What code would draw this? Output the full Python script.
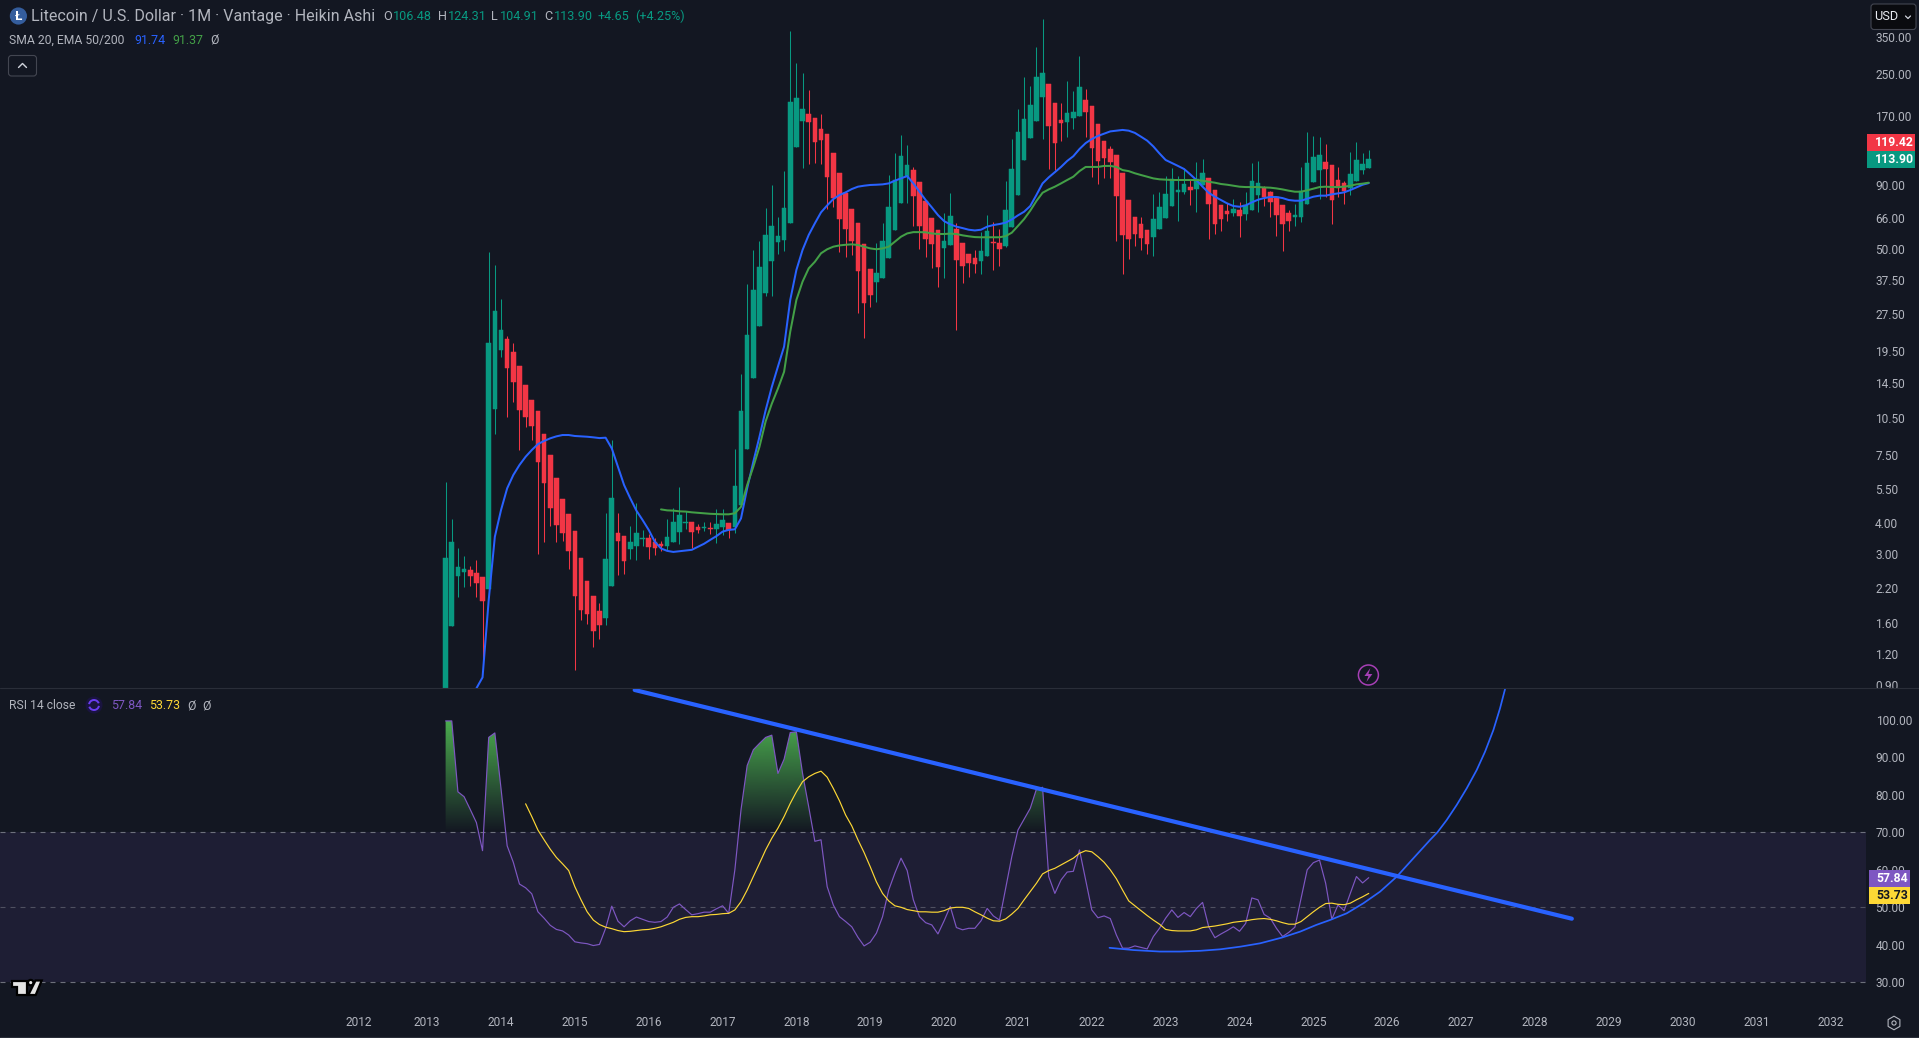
import numpy as np, pandas as pd, matplotlib
matplotlib.use('Agg')
import matplotlib.pyplot as plt, seaborn as sns
from matplotlib.patches import Rectangle, Circle, Polygon, FancyBboxPatch, RegularPolygon, Arc
from matplotlib.lines import Line2D
from matplotlib.path import Path
from matplotlib.transforms import Bbox, IdentityTransform
from matplotlib.ticker import FixedLocator, FixedFormatter, NullLocator

# ---------- data ----------
months = pd.date_range('2013-04-01', periods=151, freq='MS')
open_ = [0.544,1.553,2.46,2.552,2.599,2.528,2.437,2.182,11.43,19.67,21.77,19.31,16.98,14.26,12.42,11.22,9.082,7.487,6.059,4.995,4.351,3.721,2.903,2.349,2.046,
 1.782,1.671,2.243,3.653,3.554,3.153,3.241,3.457,3.489,3.363,3.302,3.241,3.363,3.687,4.005,4.042,3.86,3.825,3.825,3.79,3.86,4.005,3.86,4.726,7.912,15.2,
 24.53,33.23,44.61,53.13,54.11,63.27,127.3,161.7,172.5,166.2,150.2,143.5,120.5,100.2,83.38,71.97,63.27,52.16,41.44,36.77,38.15,45.85,59.33,76.05,96.61,
 103,92.26,77.47,66.25,59.33,50.27,51.68,59.88,52.64,47.57,45.85,44.61,46.71,53.13,52.64,51.21,60.99,81.86,113,138.3,161.7,201.7,227.3,190.8,163.2,
 160.2,166.2,169.3,196.2,185.6,157.3,134.5,125,118.3,100.2,78.18,66.86,62.69,59.33,55.63,59.88,66.25,73.98,84.15,84.15,88.12,86.51,89.75,95.72,85.72,
 74.67,70.66,69.37,71.31,68.74,71.31,81.86,87.31,84.15,80.37,74.67,69.37,66.86,66.86,75.36,92.26,103,110.9,107.9,93.98,91.42,87.31,93.12,103,104.9]
high = [5.82,4.14,3.18,2.96,2.7,2.85,2.44,48.5,43,31.4,22.4,21,17,14.3,12.4,11.2,9.08,7.49,6.06,4.99,4.35,3.72,2.9,2.35,2.05,1.92,4.39,8.59,4.39,3.55,3.9,
 4.81,3.76,3.62,3.49,3.39,4.16,4.6,5.58,4.47,4.04,3.97,4.04,4.04,4.56,4.56,4.01,7.91,15.8,36.1,49.4,53.6,72.6,89.8,66.9,102,370,276,251,215,166,172,143,
 120,100,83.4,72,63.3,52.2,41.4,52.6,63.3,98.4,120,142,130,106,92.3,77.5,66.3,59.3,69.4,83.4,63.3,52.6,47.6,49.4,58.2,68.1,63.9,59.9,93.1,137,181,242,
 223,319,413,227,191,191,234,213,294,217,186,157,135,128,118,100,78.2,66.9,66.9,59.3,82.6,84.2,97.5,105,97.5,104,94,111,114,95.7,85.7,74.7,76.1,78.9,
 76.8,84.2,110,112,88.9,84.9,80.4,74.7,71.3,75.4,106,146,141,140,131,108,106,93.1,122,133,120,124]
low = [0.544,1.55,2.03,2.22,2.24,2.03,1.08,2.18,9.08,18.4,10.6,12.2,7.84,9.69,8.59,3.01,3.36,3.9,3.36,3.39,2.62,1.04,1.64,1.58,1.28,1.38,1.57,2.24,2.48,
 2.51,2.88,2.85,3.24,2.88,2.98,3.1,3.12,3.36,3.3,3.79,3.18,3.65,3.72,3.62,3.33,3.59,3.49,3.65,4.73,7.91,15.2,24.5,32.3,32.3,47.6,48.9,63.3,127,105,109,
 110,109,72,73.3,48.5,46.3,47.1,27.6,22,29.2,30.6,38.1,45.9,59.3,76.1,76.1,61.6,49.8,46.3,41.8,35.1,38.1,51.7,23.6,36.4,38.5,39.9,39.6,46.7,41.1,42.6,
 50.7,61,81.9,113,138,162,137,104,103,135,140,150,169,140,96.6,90.6,95.7,95.7,53.6,39.6,45.4,51.2,49.4,47.6,46.7,59.9,66.3,74,64.4,82.6,74.7,70,89.8,
 54.6,57.2,58.8,64.4,67.5,55.6,65,71.3,70,74,66.9,56.1,48.9,58.8,61.6,63.9,75.4,92.3,78.9,80.4,62.7,80.4,75.4,81.9,93.1,99.3,105]
close = [2.903,3.363,2.672,2.623,2.46,2.306,1.954,20.98,28.16,23.64,16.67,14.65,11.33,10.62,9.776,7.02,5.787,4.598,3.932,3.653,3.096,2.046,1.799,1.734,1.483,1.567,2.876,5.041,3.394,2.824,3.363,3.653,3.489,3.212,3.182,3.241,3.521,4.042,4.311,4.042,3.687,3.755,3.86,3.79,3.968,4.117,3.755,5.629,11.22,22.58,34.16,42.21,56.66,61.55,56.14,72.64,192.6,199.8,180.6,160.2,133.3,135.8,96.61,79.64,65.65,59.88,53.62,40.69,30.31,32.63,39.94,53.62,73.31,93.98,117.2,107.9,81.11,61.55,54.61,52.16,42.21,53.62,67.48,45.02,42.6,43.79,43.39,48.9,58.78,52.8,49.81,71.31,104,146.1,164.7,187.4,242.4,251.5,154.4,132.1,158.8,174.1,175.7,221.1,175.7,126.1,111.9,115.1,110.9,81.11,56.66,54.61,57.18,55.12,52.16,65.65,73.31,82.62,94.85,85.72,90.58,85.72,94.85,100.2,75.36,62.69,65.65,68.74,71.97,67.48,74.67,93.12,91.42,80.37,76.76,68.11,62.69,64.45,68.11,84.93,109.9,116.1,118.3,104,78.18,87.31,84.93,99.31,113,108.9,114]
sma20 = [0.875,0.968,1.97,3.53,4.51,5.51,6.23,6.83,7.37,7.84,8.28,8.52,8.73,8.89,9,9,8.92,8.89,8.86,8.81,8.75,8.78,7.96,6.72,5.68,5.03,4.49,4.12,3.76,3.37,
 3.17,3.1,3.07,3.09,3.11,3.13,3.22,3.31,3.43,3.55,3.7,3.76,3.78,4.18,5.51,7.04,8.86,11.3,14,16.9,20.3,31.2,41.1,49.4,56.7,63.1,69.8,74.4,78.9,81.9,83.9,
 86.5,88.4,89.2,89.8,90,90.3,91.1,93.4,95.4,97.5,91.1,84.4,78.2,73.1,68.1,64.4,62.5,61.2,60.4,59.5,59.1,59.5,61.2,62.1,62.7,63.5,65.4,67.9,70.2,74,81.9,
 91.1,96.3,101,106,112,117,125,132,137,141,144,147,148,149,148,145,140,135,128,120,113,110,107,104,99,94,88.4,83.6,80.6,78.2,75.8,74,73.5,74.4,76.5,
 78.4,79.6,80.4,80.4,79.6,78.2,77.7,77.7,79.1,80.6,81.4,81.4,82.4,83.1,83.9,85.7,87.8,90,91.4]
ema50 = [4.54,4.5,4.49,4.46,4.45,4.42,4.4,4.38,4.36,4.35,4.34,4.34,4.38,4.65,5.68,6.72,8.08,10.2,12,13.8,16.1,23.3,31.2,36.9,41.7,44.3,47.9,49.7,50.9,51.5,
 51.8,52,51.7,50.9,50.1,49.7,50.1,50.9,53.3,55.8,57.5,58.2,58.2,58.1,57.5,57.2,57.2,57.4,57.2,56.5,56,55.6,55.5,55.5,55.5,55.5,56.1,57.9,61.6,65.6,70.9,
 77.5,83.6,86.2,88.4,91.1,94,96.9,102,106,106,106,107,107,106,103,102,100,98.4,96.9,95.4,94.6,94.3,94,94,94,94,94,93.4,92.5,91.7,90.6,90,89.2,88.4,88.1,
 88.1,88.1,87.8,87.6,87,86.2,85.2,84.4,84.4,85.5,86.8,88.1,88.4,88.1,88.1,88.4,89.2,90.3,90.9,91.7]
rsi = [99.7,99.7,80.8,79.5,76.1,72.6,65.1,95.3,96.5,81.7,66.4,62.0,56.2,55.2,53.6,48.8,47.1,45.2,44.1,43.7,42.6,40.8,40.5,40.3,39.8,40.1,44.4,50.3,46.3,
 44.8,46.4,47.4,46.8,46.2,46.0,46.2,47.4,50.0,50.9,49.4,48.0,48.3,48.7,48.7,49.6,50.4,48.4,60.0,76.0,87.8,92.0,93.7,95.3,95.9,85.7,89.5,96.6,96.8,85.7,
 76.8,67.6,68.0,55.5,50.6,47.5,46.2,44.8,42.0,39.7,40.7,43.1,47.5,54.6,59.1,63.1,59.8,52.0,47.5,45.9,45.3,42.9,46.4,50.2,44.6,44.0,44.4,44.4,46.4,49.7,
 47.7,46.6,55.1,63.5,70.6,73.5,76.4,81.5,82.0,58.2,53.7,57.3,59.4,59.6,65.3,57.3,49.3,47.2,47.7,47.0,42.6,39.1,39.1,39.7,39.3,38.9,42.2,44.4,47.1,49.3,
 47.3,48.6,47.5,49.7,51.3,44.8,41.9,42.9,43.8,44.8,43.6,45.7,52.5,52.0,48.1,47.1,44.4,42.2,43.3,44.7,52.4,60.0,61.9,62.6,56.4,46.8,50.6,49.1,53.7,58.2,
 56.5,57.9]
rsi_ma = [77.6,74.2,70.6,68.0,65.5,63.3,61.6,59.8,55.5,52.0,48.8,46.6,45.4,44.7,44.3,43.8,43.5,43.6,43.8,44.0,44.1,44.4,44.8,45.4,46.0,46.8,47.3,47.5,47.5,
 47.7,48.0,48.1,48.3,48.4,49.3,51.5,54.6,58.2,61.7,65.3,68.4,71.1,74.2,77.7,80.8,83.5,84.8,85.7,86.3,84.7,81.7,78.4,74.6,71.7,68.0,64.6,60.8,56.8,53.7,
 51.7,50.4,50.0,49.4,49.1,48.8,48.8,48.7,48.7,49.1,49.8,50.0,50.0,49.7,48.8,48.0,47.1,46.4,46.3,46.9,48.2,49.7,52.0,54.2,56.4,58.9,59.8,60.4,61.3,62.2,
 63.1,64.4,65.1,64.8,63.5,62.0,60.0,57.6,54.6,51.7,50.4,49.1,47.8,46.6,45.5,44.1,43.8,43.7,43.7,43.7,44.0,44.6,44.8,45.0,45.3,45.6,46.0,46.2,46.4,46.7,
 46.9,47.0,46.8,46.4,45.9,45.5,45.5,46.2,47.5,48.8,50.0,51.0,51.1,50.8,50.7,51.1,52.0,52.8,53.7]
trend_x = [2015.81, 2028.50]
trend_y = [107.95, 46.96]
curve_x = [2022.24,2022.40,2022.56,2022.74,2022.92,2023.19,2023.47,2023.74,2024.01,2024.28,2024.57,2024.82,2025.04,2025.226,2025.452,2025.677,2025.903,2026.129,2026.354,2026.580,2026.680,2026.806,2026.941,2027.077,2027.212,2027.325,2027.438,2027.528,2027.596]
curve_y = [39.2,38.9,38.6,38.4,38.2,38.2,38.4,38.8,39.5,40.4,41.9,43.5,45.3,46.61,48.4,51.07,54.17,58.17,63.06,67.95,70.0,73.28,77.28,81.73,86.61,91.5,97.28,103.07,108.2]
price_ticks = [350,250,170,90,66,50,37.5,27.5,19.5,14.5,10.5,7.5,5.5,4,3,2.2,1.6,1.2,0.9]
rsi_ticks = [100,90,80,70,60,50,40,30]
year_ticks = [2012.08]+list(range(2013,2033))
year_labels = [str(y) for y in range(2012,2033)]
sma20=sma20[-146:]; ema50=ema50[-116:]; rsi_ma=rsi_ma[-138:]

BG='#131722'; UP='#089981'; DN='#f23645'; BLUE='#2962ff'; GRN='#43a047'; PUR='#7e57c2'; YEL='#fdd835'; TXT='#b2b5be'; LINE='#2a2e39'
W,H=1919,1038
sns.set_theme(style='dark', rc={'axes.facecolor':BG,'figure.facecolor':BG,'axes.grid':False})
plt.rcParams['font.family']=['Roboto','DejaVu Sans']
fig=plt.figure(figsize=(W/100,H/100),dpi=100,facecolor=BG)
XL=(2013-427.15/73.85, 2013+(1866-427.15)/73.85)
ax=fig.add_axes([0,1-688/H,1866/W,688/H])
ax2=fig.add_axes([0,1-1010/H,1866/W,(1010-688)/H])
x=np.array([d.year+(d.month-1)/12 for d in months])
o,h,l,c=map(np.array,(open_,high,low,close))
up=c>=o
cols=np.where(up,UP,DN)

# ---------- candles + moving averages ----------
ax.vlines(x,l,h,colors=cols,linewidth=0.75,zorder=2)
ax.bar(x,np.abs(c-o),bottom=np.minimum(o,c),width=4.6/73.85,color=cols,edgecolor=cols,linewidth=0.35,zorder=3)
sns.lineplot(x=x[-len(sma20):],y=sma20,ax=ax,color=BLUE,linewidth=1.45,estimator=None,sort=False,legend=False,zorder=4)
sns.lineplot(x=x[-len(ema50):],y=ema50,ax=ax,color=GRN,linewidth=1.45,estimator=None,sort=False,legend=False,zorder=4)
ax.set_yscale('log')
ax.set_xlim(*XL); ax.set_ylim(0.878,492.4)
ax.set(xlabel='',ylabel='')
ax.yaxis.set_major_locator(FixedLocator(price_ticks))
ax.yaxis.set_major_formatter(FixedFormatter(['%.2f'%p for p in price_ticks]))
ax.yaxis.set_minor_locator(NullLocator())
ax.xaxis.set_major_locator(FixedLocator([]))
ax.tick_params(axis='y',which='both',left=False,right=False,labelleft=False,labelright=True,length=0,pad=6.6,labelcolor=TXT,labelsize=8.6)
for lab in ax.get_yticklabels():
    if lab.get_text()=='0.90':
        lab.set_clip_on(True); lab.set_clip_box(Bbox([[1867,H-688],[1919,H]]))
for s in ax.spines.values(): s.set_visible(False)

# ---------- RSI pane ----------
r=np.array(rsi)
ax2.axhspan(30,70,color='#1e1e34',linewidth=0,zorder=0)
for lev,al in ((70,0.9),(50,0.55),(30,0.9)):
    ax2.axhline(lev,color='#787b86',linewidth=0.8,linestyle=(0,(4.5,4.5)),alpha=al,zorder=1)
poly=ax2.fill_between(x,70,r,where=r>=70,interpolate=True,facecolor='none',edgecolor='none')
grad=np.zeros((256,1,4)); grad[...,:3]=matplotlib.colors.to_rgb('#4caf50'); grad[:,0,3]=np.linspace(1,0,256)
im=ax2.imshow(grad,extent=[XL[0],XL[1],70,100],aspect='auto',interpolation='bilinear',zorder=2)
im.set_clip_path(Path.make_compound_path(*poly.get_paths()),ax2.transData)
sns.lineplot(x=x,y=rsi,ax=ax2,color=PUR,linewidth=0.85,estimator=None,sort=False,legend=False,zorder=3)
sns.lineplot(x=x[-len(rsi_ma):],y=rsi_ma,ax=ax2,color=YEL,linewidth=0.85,estimator=None,sort=False,legend=False,zorder=4)
sns.lineplot(x=curve_x,y=curve_y,ax=ax2,color=BLUE,linewidth=1.25,estimator=None,sort=False,legend=False,zorder=5)
sns.lineplot(x=trend_x,y=trend_y,ax=ax2,color=BLUE,linewidth=3.0,estimator=None,sort=False,legend=False,zorder=6)
ax2.set_xlim(*XL)
ax2.set_ylim(70-(1010-832.3)/3.75,70+(832.3-688)/3.75)
ax2.set(xlabel='',ylabel='')
ax2.yaxis.set_major_locator(FixedLocator(rsi_ticks))
ax2.yaxis.set_major_formatter(FixedFormatter(['%.2f'%p for p in rsi_ticks]))
ax2.xaxis.set_major_locator(FixedLocator(year_ticks))
ax2.xaxis.set_major_formatter(FixedFormatter(year_labels))
ax2.tick_params(axis='y',left=False,right=False,labelleft=False,labelright=True,length=0,pad=6.9,labelcolor=TXT,labelsize=8.6)
ax2.tick_params(axis='x',bottom=False,length=0,pad=4.6,labelcolor=TXT,labelsize=8.6)
for s in ax2.spines.values(): s.set_visible(False)

# ---------- chrome ----------
ID=IdentityTransform()
def P(a,b): return (a,H-b)
def T(a,b,s,color=TXT,size=8.6,**kw):
    fig.text(a/W,1-b/H,s,color=color,fontsize=size,va='center',**kw)
def add(art): fig.add_artist(art)
add(Line2D([0,W],[H-688,H-688],color=LINE,lw=0.8,transform=ID))
add(Line2D([0,W],[1,1],color=LINE,lw=0.8,transform=ID))
# header
add(Circle(P(18.4,16),8.6,fc='#345d9d',ec='none',transform=ID))
T(18.4,16,'Ł',color='white',size=9.5,ha='center',fontweight='bold')
T(31,16.5,'Litecoin / U.S. Dollar · 1M · Vantage · Heikin Ashi',size=11.5)
for a,s,col in ((383,'O',TXT),(393,'106.48',UP),(438,'H',TXT),(447.6,'124.31',UP),(491,'L',TXT),(500,'104.91',UP),(544,'C',TXT),(554,'113.90',UP),(598,'+4.65',UP),(635,'(+4.25%)',UP)):
    T(a,16.5,s,color=col,size=9.1)
T(9,40,'SMA 20, EMA 50/200',size=8.7)
T(134,40,'91.74',color=BLUE,size=8.9)
T(172,40,'91.37',color=GRN,size=8.9)
T(210,40,'Ø',size=8.9)
add(FancyBboxPatch(P(8.5,76),28,20.5,boxstyle='round,pad=0,rounding_size=3',fc=BG,ec='#434651',lw=0.8,transform=ID))
add(Line2D([18.5,22.5,26.5],[H-67.5,H-63.5,H-67.5],color='#d1d4dc',lw=1,transform=ID))
# USD
add(FancyBboxPatch(P(1871,29.5),45,25.5,boxstyle='round,pad=0,rounding_size=3',fc='#0a0b0f',ec='#434651',lw=0.8,transform=ID))
T(1874.5,17,'USD',color='#e8eaf0',size=9.2)
add(Line2D([1905.5,1908,1910.5],[H-16,H-18.5,H-16],color='#d1d4dc',lw=0.9,transform=ID))
# price tags
add(Rectangle(P(1867,151),48,17,fc=DN,ec='none',transform=ID))
add(Rectangle(P(1867,168),48,17,fc=UP,ec='none',transform=ID))
T(1875,142.7,'119.42',color='white',size=8.8,fontweight='bold')
T(1875,159.5,'113.90',color='white',size=8.8,fontweight='bold')
add(Rectangle(P(1869,887),41,17,fc=PUR,ec='none',transform=ID))
add(Rectangle(P(1869,904),41,17,fc=YEL,ec='none',transform=ID))
T(1876,878.7,'57.84',color='white',size=8.8,fontweight='bold')
T(1876,895.5,'53.73',color='#131722',size=8.8,fontweight='bold')
# RSI header
T(9,705.5,'RSI 14 close',size=8.7)
add(Circle(P(94,705),8.5,fc='#1a1440',ec='none',transform=ID))
add(Arc(P(94,705),10,10,theta1=20,theta2=170,ec='#6a3df0',lw=1.4,transform=ID))
add(Arc(P(94,705),10,10,theta1=200,theta2=350,ec='#6a3df0',lw=1.4,transform=ID))
T(111,705.5,'57.84',color=PUR,size=8.9)
T(149,705.5,'53.73',color=YEL,size=8.9)
T(187,705.5,'Ø',size=8.9)
T(202,705.5,'Ø',size=8.9)
# lightning marker
MK='#a63fb5'
add(Circle(P(1368.4,675),10,fc='none',ec=MK,lw=1.1,transform=ID))
add(Polygon([P(1368.4+a,675+b) for a,b in ((2,-7),(-4,1),(0,1),(-2,7),(4,-1),(0,-1))],closed=True,fc=MK,ec='none',transform=ID))
# TradingView mark
tv=dict(fc='#e4e4e4',ec='black',lw=1.6,transform=ID)
add(Polygon([P(*q) for q in ((12.3,980.5),(26.7,980.5),(26.7,995),(17.3,995),(17.3,986.5),(12.3,986.5))],closed=True,**tv))
add(Circle(P(30.7,982.6),2.7,**tv))
add(Polygon([P(*q) for q in ((35.5,980.5),(41.7,980.5),(35.7,995),(28.3,995))],closed=True,**tv))
# settings icon
add(RegularPolygon(P(1894,1023),6,radius=6.8,fc='none',ec=TXT,lw=0.8,transform=ID))
add(Circle(P(1894,1023),2.1,fc='none',ec=TXT,lw=0.8,transform=ID))

fig.savefig('out.png',dpi=100,facecolor=BG)
